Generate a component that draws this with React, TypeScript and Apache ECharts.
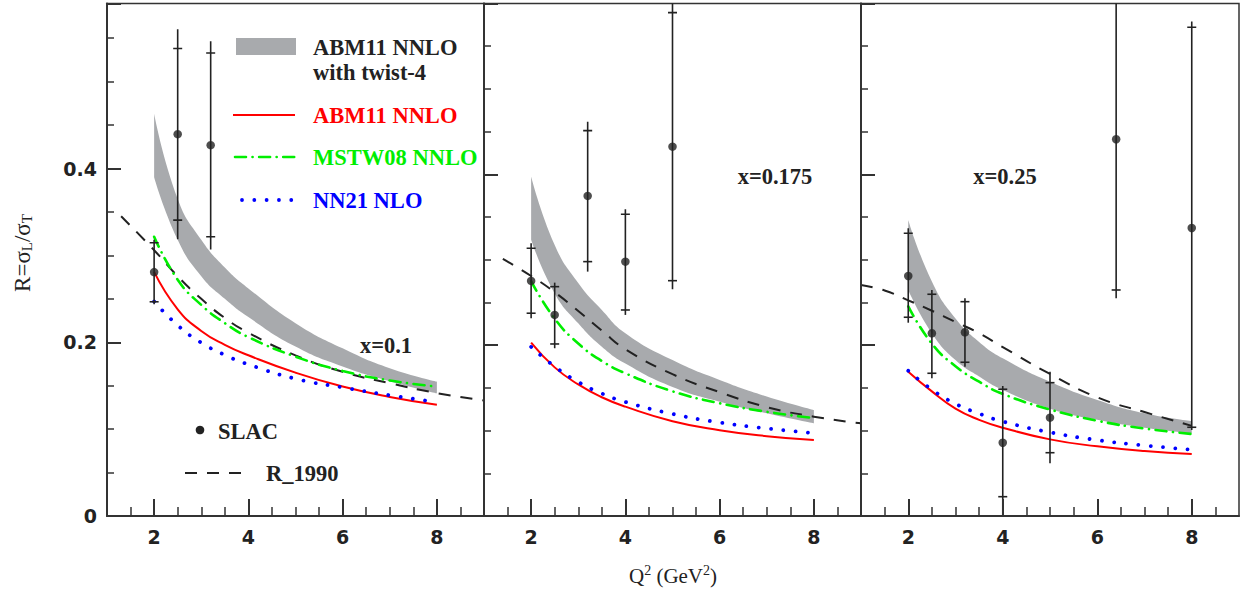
import React, { useEffect, useRef } from "react";
import * as echarts from "echarts";

// ---------- data ----------
const Q2 = [2, 2.5, 3, 3.5, 4, 5, 6, 7, 8];

// x = 0.1
const p1BandLow = [0.39, 0.318, 0.276, 0.25, 0.229, 0.195, 0.172, 0.155, 0.141];
const p1BandHigh = [0.463, 0.365, 0.318, 0.286, 0.262, 0.222, 0.193, 0.17, 0.1546];
const p1ABM = [0.281, 0.238, 0.213, 0.197, 0.185, 0.165, 0.149, 0.137, 0.128];
const p1MSTW = [0.3214, 0.272, 0.243, 0.222, 0.206, 0.1835, 0.167, 0.156, 0.149];
const p1NN21 = [0.247, 0.2195, 0.1995, 0.1855, 0.1745, 0.158, 0.148, 0.139, 0.131];
const p1RQ2 = [1.3, 2, 2.5, 3, 3.5, 4, 5, 6, 7, 8, 9];
const p1R1990 = [0.345, 0.306, 0.276, 0.25, 0.228, 0.211, 0.185, 0.166, 0.153, 0.1415, 0.133];
const p1SlacQ2 = [2, 2.5, 3.2];
const p1SlacR = [0.2808, 0.4396, 0.4269];
const p1StatLo = [0.2466, 0.3406, 0.3214];
const p1StatHi = [0.3145, 0.5382, 0.5331];
const p1TotLo = [0.2438, 0.3186, 0.3069];
const p1TotHi = [0.318, 0.5604, 0.5466];

// x = 0.175
const p2BandLow = [0.3235, 0.2606, 0.2256, 0.1982, 0.1785, 0.1511, 0.1339, 0.1203, 0.1085];
const p2BandHigh = [0.3975, 0.3174, 0.2728, 0.2413, 0.214, 0.1825, 0.1592, 0.1399, 0.1241];
const p2ABM = [0.203, 0.174, 0.154, 0.139, 0.128, 0.111, 0.1005, 0.0935, 0.089];
const p2MSTW = [0.275, 0.231, 0.202, 0.1815, 0.167, 0.146, 0.132, 0.122, 0.1146];
const p2NN21 = [0.198, 0.175, 0.157, 0.1435, 0.1335, 0.1195, 0.1095, 0.1025, 0.097];
const p2RQ2 = [1.4, 2, 2.5, 3, 3.5, 4, 5, 6, 7, 8, 9];
const p2R1990 = [0.301, 0.281, 0.262, 0.24, 0.217, 0.1953, 0.166, 0.145, 0.1275, 0.1163, 0.1085];
const p2SlacQ2 = [2, 2.5, 3.2, 4, 5];
const p2SlacR = [0.2752, 0.2354, 0.3747, 0.2978, 0.4324];
const p2StatLo = [0.2374, 0.2014, 0.2978, 0.2412, 0.2755];
const p2StatHi = [0.3135, 0.2685, 0.4512, 0.3533, 0.5893];
const p2TotLo = [0.2315, 0.1964, 0.2861, 0.2354, 0.2655];
const p2TotHi = [0.3193, 0.2732, 0.4617, 0.3591, 0.605];

// x = 0.25
const p3BandLow = [0.2647, 0.214, 0.1825, 0.1633, 0.1475, 0.1257, 0.1126, 0.1034, 0.0968];
const p3BandHigh = [0.3466, 0.2744, 0.2312, 0.2038, 0.1846, 0.1572, 0.1359, 0.1203, 0.1112];
const p3ABM = [0.169, 0.1459, 0.1257, 0.1126, 0.1034, 0.0897, 0.0816, 0.076, 0.0726];
const p3MSTW = [0.2454, 0.2018, 0.1754, 0.1572, 0.143, 0.1247, 0.1115, 0.1024, 0.096];
const p3NN21 = [0.17, 0.148, 0.1314, 0.1199, 0.1106, 0.098, 0.0889, 0.0826, 0.0777];
const p3RQ2 = [1, 1.5, 2, 2.5, 3, 3.5, 4, 5, 6, 7, 8];
const p3R1990 = [0.2705, 0.264, 0.2525, 0.2403, 0.2271, 0.214, 0.1977, 0.1663, 0.1389, 0.1217, 0.1055];
const p3SlacQ2 = [2, 2.5, 3.2, 4, 5, 6.4, 8];
const p3SlacR = [0.281, 0.2139, 0.2151, 0.0858, 0.1151, 0.4411, 0.3372];
const p3StatLo = [0.2327, 0.1671, 0.18, 0.0226, 0.0741, 0.2646, 0.1039];
const p3StatHi = [0.331, 0.2596, 0.2509, 0.1484, 0.1561, 0.62, 0.5722];
const p3TotLo = [0.2263, 0.1612, 0.1748, 0.001, 0.0617, 0.2549, 0.1007];
const p3TotHi = [0.3369, 0.2646, 0.2549, 0.1522, 0.169, 0.63, 0.5788];

const panelLabels = ["x=0.1", "x=0.175", "x=0.25"];
const yMax = [0.59, 0.6, 0.6];
const xMajorTicks = [2, 4, 6, 8];
const xMinorTicks = [1.5, 2.5, 3, 3.5, 4.5, 5, 5.5, 6.5, 7, 7.5, 8.5];

// ---------- styles ----------
const SERIF = "'Liberation Serif', 'Times New Roman', serif";
const SANS = "'DejaVu Sans', sans-serif";
const INK = "#222";
const AXIS = "#333";
const GRAY = "#a8aaad";
const RED = "#ff0000";
const GREEN = "#00ee00";
const BLUE = "#0000ff";
const DASH_R = [12, 10];
const DASH_MSTW = [11, 6.5, 0.1, 6.5];
const DOT_NN = [0.01, 12.3];
const SMOOTH = 0.5;

const panels = [
  { low: p1BandLow, high: p1BandHigh, abm: p1ABM, mstw: p1MSTW, nn: p1NN21, rq: p1RQ2, r: p1R1990,
    sq: p1SlacQ2, sr: p1SlacR, sl: p1StatLo, sh: p1StatHi, tl: p1TotLo, th: p1TotHi },
  { low: p2BandLow, high: p2BandHigh, abm: p2ABM, mstw: p2MSTW, nn: p2NN21, rq: p2RQ2, r: p2R1990,
    sq: p2SlacQ2, sr: p2SlacR, sl: p2StatLo, sh: p2StatHi, tl: p2TotLo, th: p2TotHi },
  { low: p3BandLow, high: p3BandHigh, abm: p3ABM, mstw: p3MSTW, nn: p3NN21, rq: p3RQ2, r: p3R1990,
    sq: p3SlacQ2, sr: p3SlacR, sl: p3StatLo, sh: p3StatHi, tl: p3TotLo, th: p3TotHi },
];

const grids = [
  { left: 107, top: 3.5, width: 377, height: 512.5 },
  { left: 484, top: 3.5, width: 377, height: 512.5 },
  { left: 861, top: 3.5, width: 378, height: 512.5 },
];

function pairs(xs: number[], ys: number[]) {
  return xs.map((x, i) => [x, ys[i]]);
}

// bezier segments through pixel points, same rule as ECharts' line smoothing
function smoothSegments(pts: number[][], smooth: number): string {
  const n = pts.length;
  let d = "";
  let cp0 = pts[0];
  for (let k = 1; k < n; k++) {
    const cur = pts[k];
    const prev = pts[k - 1];
    let cp1 = cur;
    let nextCp0 = cur;
    if (k < n - 1) {
      const next = pts[k + 1];
      const vx = (next[0] - prev[0]) * smooth;
      const vy = (next[1] - prev[1]) * smooth;
      const lp = Math.hypot(cur[0] - prev[0], cur[1] - prev[1]);
      const ln = Math.hypot(next[0] - cur[0], next[1] - cur[1]);
      const r = ln / (ln + lp);
      cp1 = [cur[0] - vx * (1 - r), cur[1] - vy * (1 - r)];
      nextCp0 = [cur[0] + vx * r, cur[1] + vy * r];
    }
    d += `C${cp0[0]},${cp0[1]} ${cp1[0]},${cp1[1]} ${cur[0]},${cur[1]}`;
    cp0 = nextCp0;
  }
  return d;
}

function bandItem(params: any, api: any) {
  if (params.dataIndexInside !== 0) return null;
  const n = params.dataInsideLength;
  const up: number[][] = [];
  const lo: number[][] = [];
  for (let k = 0; k < n; k++) {
    const x = api.value(0, k);
    lo.push(api.coord([x, api.value(1, k)]));
    up.push(api.coord([x, api.value(2, k)]));
  }
  const loRev = lo.slice().reverse();
  const d =
    `M${up[0][0]},${up[0][1]}` + smoothSegments(up, SMOOTH) +
    `L${loRev[0][0]},${loRev[0][1]}` + smoothSegments(loRev, SMOOTH) + "Z";
  return { type: "path", shape: { pathData: d }, style: { fill: GRAY } };
}

function errorBarItem(params: any, api: any) {
  const x = api.value(0);
  const pSL = api.coord([x, api.value(1)]);
  const pSH = api.coord([x, api.value(2)]);
  const pTL = api.coord([x, api.value(3)]);
  const pTH = api.coord([x, api.value(4)]);
  const style = { stroke: INK, lineWidth: 1.6 };
  const half = 4.5;
  return {
    type: "group",
    children: [
      { type: "line", shape: { x1: pTL[0], y1: pTL[1], x2: pTH[0], y2: pTH[1] }, style },
      { type: "line", shape: { x1: pSL[0] - half, y1: pSL[1], x2: pSL[0] + half, y2: pSL[1] }, style },
      { type: "line", shape: { x1: pSH[0] - half, y1: pSH[1], x2: pSH[0] + half, y2: pSH[1] }, style },
    ],
  };
}

function buildOption() {
  const xAxis: any[] = [];
  const yAxis: any[] = [];
  const series: any[] = [];

  panels.forEach((p, i) => {
    xAxis.push({
      gridIndex: i, type: "value", min: 1, max: 9, position: "bottom", z: 10,
      axisLine: { show: true, onZero: false, lineStyle: { color: AXIS, width: 2 } },
      axisTick: { show: true, inside: true, length: 17, customValues: xMajorTicks, lineStyle: { color: AXIS, width: 2 } },
      axisLabel: { show: true, customValues: xMajorTicks, margin: 11, color: INK, fontFamily: SANS, fontWeight: "bold", fontSize: 19 },
      splitLine: { show: false },
    });
    xAxis.push({
      gridIndex: i, type: "value", min: 1, max: 9, position: "bottom", z: 10,
      axisLine: { show: false, onZero: false },
      axisTick: { show: true, inside: true, length: 9, customValues: xMinorTicks, lineStyle: { color: AXIS, width: 1.5 } },
      axisLabel: { show: false },
      splitLine: { show: false },
    });
    yAxis.push({
      gridIndex: i, type: "value", min: 0, max: yMax[i], interval: 0.2, position: "left", z: 10,
      axisLine: { show: true, onZero: false, lineStyle: { color: AXIS, width: 2 } },
      axisTick: { show: true, inside: true, length: 14, lineStyle: { color: AXIS, width: 2 } },
      minorTick: { show: true, splitNumber: 4, length: 7, lineStyle: { color: AXIS, width: 1.5 } },
      axisLabel: { show: i === 0, margin: 10, showMaxLabel: false, color: INK, fontFamily: SANS, fontWeight: "bold", fontSize: 19 },
      splitLine: { show: false },
      minorSplitLine: { show: false },
    });

    const xi = 2 * i;
    const common = { xAxisIndex: xi, yAxisIndex: i, symbol: "none", silent: true, smooth: SMOOTH };
    series.push({
      type: "custom", name: "ABM11 NNLO with twist-4", xAxisIndex: xi, yAxisIndex: i, silent: true, clip: true,
      renderItem: bandItem, encode: { x: 0, y: [1, 2] },
      data: Q2.map((q, k) => [q, p.low[k], p.high[k]]), z: 1,
    });
    series.push({
      ...common, type: "line", name: "R_1990", data: pairs(p.rq, p.r),
      lineStyle: { color: INK, width: 2, type: DASH_R }, z: 3,
    });
    series.push({
      ...common, type: "line", name: "ABM11 NNLO", data: pairs(Q2, p.abm),
      lineStyle: { color: RED, width: 2 }, z: 4,
    });
    series.push({
      ...common, type: "line", name: "MSTW08 NNLO", data: pairs(Q2, p.mstw),
      lineStyle: { color: GREEN, width: 2.6, type: DASH_MSTW, cap: "round" }, z: 4,
    });
    series.push({
      ...common, type: "line", name: "NN21 NLO", data: pairs(Q2, p.nn),
      lineStyle: { color: BLUE, width: 3.8, type: DOT_NN, cap: "round" }, z: 4,
    });
    series.push({
      type: "custom", name: "SLAC err" + i, xAxisIndex: xi, yAxisIndex: i, silent: true, clip: true,
      renderItem: errorBarItem, encode: { x: 0, y: 1 },
      data: p.sq.map((q, k) => [q, p.sl[k], p.sh[k], p.tl[k], p.th[k]]), z: 5,
    });
    series.push({
      type: "scatter", name: "SLAC", xAxisIndex: xi, yAxisIndex: i, silent: true,
      data: pairs(p.sq, p.sr), symbol: "circle", symbolSize: 8.5,
      itemStyle: { color: INK }, z: 6,
    });
  });

  const legendText = (x: number, y: number, text: string, fill: string) => ({
    type: "text", x, y,
    style: { text, fill, fontFamily: SERIF, fontWeight: "bold", fontSize: 22.5, align: "left", verticalAlign: "middle" },
    z: 20,
  });

  const panelText = (x: number, y: number, text: string) => ({
    type: "text", x, y, z: 20,
    style: { text, fill: INK, fontFamily: SERIF, fontWeight: "bold", fontSize: 22.5, align: "center", verticalAlign: "middle" },
  });

  const graphic: any[] = [
    { type: "rect", shape: { x: 236, y: 38, width: 60, height: 17 }, style: { fill: GRAY }, z: 20 },
    legendText(313, 47, "ABM11 NNLO", INK),
    legendText(313, 72, "with twist-4", INK),
    { type: "line", shape: { x1: 233, y1: 115, x2: 295, y2: 115 }, style: { stroke: RED, lineWidth: 2 }, z: 20 },
    legendText(313, 115, "ABM11 NNLO", RED),
    { type: "line", shape: { x1: 235, y1: 157, x2: 295, y2: 157 }, style: { stroke: GREEN, lineWidth: 2.6, lineDash: DASH_MSTW, lineCap: "round" }, z: 20 },
    legendText(313, 157, "MSTW08 NNLO", GREEN),
    { type: "line", shape: { x1: 242, y1: 200, x2: 294, y2: 200 }, style: { stroke: BLUE, lineWidth: 3.8, lineDash: DOT_NN, lineCap: "round" }, z: 20 },
    legendText(313, 200, "NN21 NLO", BLUE),
    { type: "circle", shape: { cx: 200, cy: 430, r: 4.3 }, style: { fill: INK }, z: 20 },
    legendText(218, 431, "SLAC", INK),
    { type: "line", shape: { x1: 185, y1: 473, x2: 250, y2: 473 }, style: { stroke: INK, lineWidth: 2, lineDash: DASH_R }, z: 20 },
    legendText(266, 473, "R_1990", INK),
    panelText(386, 345, panelLabels[0]),
    panelText(775, 176, panelLabels[1]),
    panelText(1005, 176, panelLabels[2]),
    {
      type: "text", x: 673, y: 576, z: 20,
      style: {
        text: "Q{sup|2} (GeV{sup|2})", fill: INK, fontFamily: SERIF, fontSize: 21, align: "center", verticalAlign: "middle",
        rich: { sup: { fontFamily: SERIF, fontSize: 14, fill: INK, padding: [0, 0, 12, 0] } },
      },
    },
    {
      type: "text", x: 22, y: 253, rotation: Math.PI / 2, z: 20,
      style: {
        text: "R=σ{sub|L}/σ{sub|T}", fill: INK, fontFamily: SERIF, fontSize: 23, align: "center", verticalAlign: "middle",
        rich: { sub: { fontFamily: SERIF, fontSize: 15, fill: INK, padding: [9, 0, 0, 0] } },
      },
    },
  ];

  return {
    animation: false,
    backgroundColor: "#ffffff",
    grid: grids.map((g) => ({ ...g, show: true, borderColor: AXIS, borderWidth: 1.5, containLabel: false })),
    xAxis,
    yAxis,
    series,
    graphic,
  };
}

export default function App() {
  const ref = useRef<HTMLDivElement>(null);
  useEffect(() => {
    if (!ref.current) return;
    const chart = echarts.init(ref.current, null, { renderer: "svg" });
    chart.setOption(buildOption() as any);
    return () => chart.dispose();
  }, []);
  return (
    <div
      ref={ref}
      style={{ position: "absolute", left: 0, top: 0, width: 1242, height: 590, background: "#fff" }}
    />
  );
}
